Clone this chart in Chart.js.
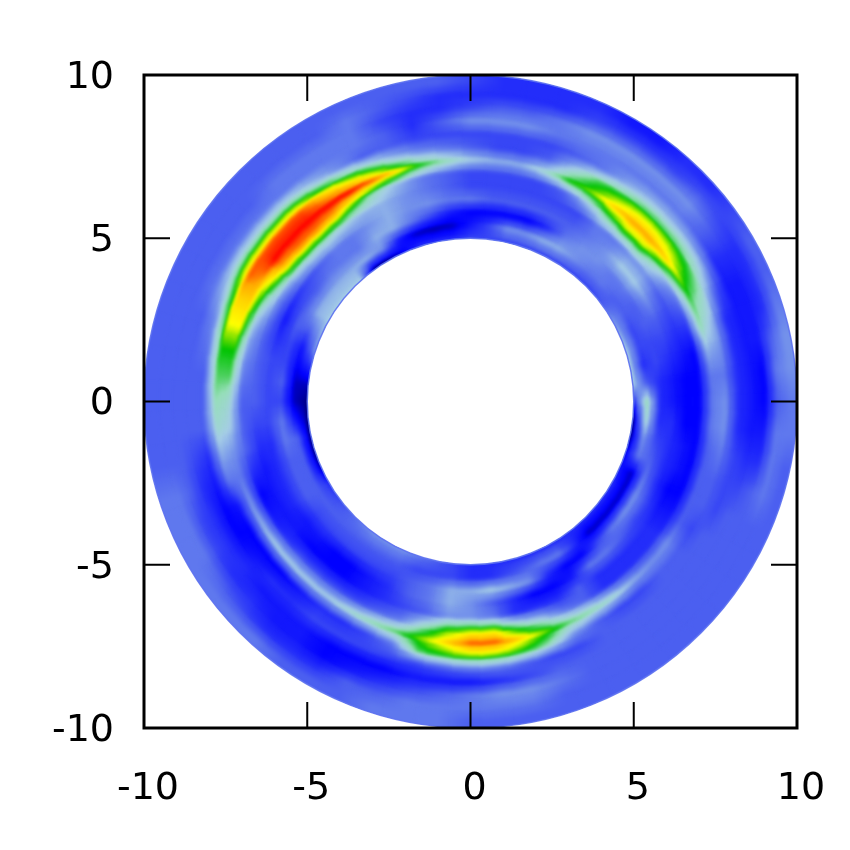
<!DOCTYPE html>
<html>
<head>
<meta charset="utf-8">
<style>
html,body{margin:0;padding:0;background:#fff}
#wrap{width:850px;height:850px}
</style>
<script src="https://cdn.jsdelivr.net/npm/chart.js@4/dist/chart.umd.min.js"></script>
</head>
<body>
<div id="wrap"><canvas id="chart" width="850" height="850"></canvas></div>
<script>
// values, one array per ring, one value every 6 degrees from +x going ccw
const ring50=[2,5,5,5,4.5,4,3,2.5,2.5,2.5, 2.5,2.5,2.5,2.5,2.5,2.5,2,2,2,1, 0,0,5,5,5,5,4.5,4,2,.5, 0,0,0,0,.5,2,2.5,3,3.5,4, 4,4,3.5,3,2.5,2,2,2,2,2, 2,2,2,2,2,2,1.5,1,0,0];
const ring54=[6,3,2,2.5,2.5,3,3,3.5,3.5,4, 4.5,4.5,4,4,2.5,1.5,.5,.3,.5,1.5, 4,4.5,4.5,4.5,4.5,4.5,3,1.5,1,.5, .5,1.5,3,3,3,3,3,3,3,3, 3,3,2.5,2.5,2.5,2,2,2.5,3,3.5, 3.5,2,.5,.5,.5,.5,.5,3.5,4,5.5];
const ring58=[2,2,2.5,2.5,3,3,3.5,3.5,4,4, 3.5,2,1,1,1,1,1.5,2.5,3.5,4.5, 4.5,3.5,3.5,3.5,3,3,3,2.5,2.5,3, 2.5,3.5,3.5,3,3,3,2.5,2.5,2.5,2.5, 2.5,2.5,3,3.5,4.5,4.5,5,4.5,4,2, 1,1,2.5,3.5,4,4,3.5,3,2.5,2];
const ring62=[1.5,1.5,2,2.5,3,4,5,5,4,3.5, 3,3,3,3,3,3.5,3.5,4,4,4.5, 4,3.5,3.5,3,2.5,2,1.5,2,2.5,2.5, 2.5,2.5,2,2,2,2,1.5,1.5,1,1, 1.5,2,3,3.5,4.5,4,3,2,1,1, 1.5,3.5,3.5,3,2.5,2.5,2,2,2,2];
const ring66=[1,1,1.5,2,2.5,3,4,4,3.5,3.5, 2.5,2.5,2.5,2.5,2.5,2.5,3,3.5,4,4.5, 4.5,5,5.5,5.5,5,4,3.5,3,3,3, 3,2.5,2,1.5,1.5,1.5,1.5,1,1,1, 1.5,2,2.5,3,4,4,3.5,2,2,2, 3,2,2,2,2,1.5,1,1.5,1.5,1];
const ring70=[1,1,1,2,3,4,5.5,7,7,6, 4.5,3,2.5,2.5,2.5,2.5,3,3.5,4.5,5.5, 7,8.5,9,9,8.5,7,5.5,4.5,4,3.5, 3,3,3,2,1,1.5,2,2.5,2.5,2.5, 2.5,3,3.5,5.5,7,7.5,7.5,6,5,3.5, 3,2,2,2,2,1.5,1,1,1,1];
const ring74=[3.5,3.5,4.5,6,6.5,7.5,8.5,9,9,8.5, 7.5,7,5.5,4.5,4.5,5,6,7,8.5,9.5, 10,10,10,10,10,9,8.5,8,7,6.5, 5.5,5,4,3.5,4,4.5,5,5,5,5, 5.5,6,6.5,7.5,8.5,9.5,9.5,8.5,7.5,6.5, 6,5.5,4.5,4,4,3,3,3,3,3.5];
const ring78=[4,3.5,4,4.5,5.5,6.5,7.2,7.5,7.5,7, 6.5,5,3,2.5,2.5,3,3.5,4,5,6.5, 7.5,8.5,9.5,9.5,9.5,9.5,8.5,8,7,6.5, 6,5.5,4.5,3.5,1.5,1,1,1,1.5,2, 2,2.5,3.5,6.5,7,7.5,7.5,7,6,4, 3,2.5,2.5,3,3,2.5,3,3,3.5,4];
const ring82=[2,2,2,2,3,4.5,5,5,5,4.5, 3.5,3,2.5,2.5,2.5,2.5,2.5,2.5,3,3, 4,5,6,6,6,6,5,4,3.5,3, 3,3,2,1.5,1,1,1.5,2,2,2.5, 2.5,2.5,2.5,2.5,3,3.5,3.5,3,2.5,2.5, 3,3,3,3,3,3,2.5,2.5,2.5,2];
const ring86=[1.5,1.5,1.5,1.5,1.5,2,3,3.5,3.5,3.5, 3.5,3.5,3.5,4,4,4,3,2,3,3.5, 3.5,3.5,3.5,3.5,3.5,3.5,3.5,3,3,3, 3,3,2.5,2,2,2,2,1.5,1.5,1.5, 1,1,1,1.5,1.5,1.5,2,2.5,3,3, 3,3,3,3,3,3,3,2.5,2,1.5];
const ring90=[1,1,1.5,1.5,1.5,2,3,4,4,4, 4,4,3.5,3,3,2.5,2,2,2.5,3.5, 3.5,3.5,3.5,3,3,3,3,3,3,3, 3,3,3,3,2.5,2.5,2,2,1.5,1.5, 1,1.5,2,2.5,3,3.5,4,4,3.5,3, 3,3,3,3,3,3,3,3,2,1.5];
const ring94=[3,3.5,3,2,2,2,2.5,3,2.5,2.5, 2.5,2.5,2,2,2,2,2,2.5,3,3.5, 3,3,3,3,3,3,3,3,3,3, 3,3,3,3.5,3.5,3.5,3,2.5,2,2, 2,3,3,3.5,3.5,3.5,3.5,3.5,3,3, 3,3,3,3,3,3,3,3.5,3.5,3.5];
const ring98=[3.5,4,4,3.5,3,3,2.5,2,2,1.5, 1.5,2,2,2,2,2.5,3,3,3,3, 3,3,3,3,3,3,3,3,3,3, 3,3,3,3.5,3.5,3.5,3.5,3.5,3.5,3, 3,3,3.5,3.5,3.5,3,3,3,3,3, 3,3,3,3,3,3,3,3,3,3.5];

const ringRadii=[5,5.4,5.8,6.2,6.6,7,7.4,7.8,8.2,8.6,9,9.4,9.8];
const ringValues=[ring50,ring54,ring58,ring62,ring66,ring70,ring74,ring78,ring82,ring86,ring90,ring94,ring98];
const angleStep=6;
const innerRadius=5, outerRadius=10;
const tickValues=[-10,-5,0,5,10];

// level -> colour, same ramp as the picture
const ramp=[[0,0,130],[0,0,255],[35,45,250],[75,95,240],[115,145,235],[165,205,230],[150,222,185],[0,195,0],[255,255,0],[255,170,0],[255,0,0]];
function rgbFor(v){
  const i=Math.max(0,Math.min(Math.floor(v),9)), t=v-i;
  return ramp[i].map((n,k)=>Math.round(n+(ramp[i+1][k]-n)*t));
}

const pxPerUnit=653/20;
const ringGap=0.4;

// shade one cell like pm3d interpolate: its marker fades towards the neighbouring cells
function sample(rf,af){
  const n=ringValues[0].length, last=ringValues.length-1;
  rf=Math.max(0,Math.min(rf,last));
  const r0=Math.min(Math.floor(rf),last-1), tr=rf-r0;
  const a0=Math.floor(af), ta=af-a0;
  const i0=((a0%n)+n)%n, i1=(i0+1)%n;
  const lo=ringValues[r0][i0]*(1-ta)+ringValues[r0][i1]*ta;
  const hi=ringValues[r0+1][i0]*(1-ta)+ringValues[r0+1][i1]*ta;
  return lo*(1-tr)+hi*tr;
}
const cellCache={};
function cellCanvas(ri,ai){
  const key=ri+'_'+ai;
  if(cellCache[key])return cellCache[key];
  const r=ringRadii[ri];
  const c=document.createElement('canvas');
  c.width=Math.ceil(r*angleStep*Math.PI/180*pxPerUnit*1.25);
  c.height=Math.ceil(ringGap*pxPerUnit*1.25);
  const g=c.getContext('2d');
  const img=g.createImageData(c.width,c.height);
  const degPerPx=1/(r*pxPerUnit)*180/Math.PI/angleStep;
  const ringPerPx=1/(ringGap*pxPerUnit);
  for(let py=0;py<c.height;py++){
    for(let px=0;px<c.width;px++){
      // canvas +x runs clockwise, canvas +y runs inwards once the marker is rotated
      const af=ai-(px+.5-c.width/2)*degPerPx;
      const rf=ri-(py+.5-c.height/2)*ringPerPx;
      const col=rgbFor(sample(rf,af));
      const o=(py*c.width+px)*4;
      img.data[o]=col[0];img.data[o+1]=col[1];img.data[o+2]=col[2];img.data[o+3]=255;
    }
  }
  g.putImageData(img,0,0);
  cellCache[key]=c;
  return c;
}

const cells=[];
ringRadii.forEach((r,ri)=>{
  ringValues[ri].forEach((v,ai)=>{
    const a=ai*angleStep*Math.PI/180;
    cells.push({x:r*Math.cos(a),y:r*Math.sin(a),ri:ri,ai:ai,v:v,deg:ai*angleStep});
  });
});

function annulusPath(chart){
  const {ctx,scales:{x,y}}=chart;
  const cx=x.getPixelForValue(0), cy=y.getPixelForValue(0);
  const ro=x.getPixelForValue(outerRadius)-cx, ri=x.getPixelForValue(innerRadius)-cx;
  ctx.beginPath();
  ctx.arc(cx,cy,ro,0,Math.PI*2);
  ctx.moveTo(cx+ri,cy);
  ctx.arc(cx,cy,ri,0,Math.PI*2);
}

const ringPlugin={
  id:'ringPlugin',
  beforeDatasetDraw(chart){
    const ctx=chart.ctx;
    ctx.save();
    annulusPath(chart);
    ctx.clip('evenodd');
    const base=rgbFor(3);
    ctx.fillStyle=`rgb(${base[0]},${base[1]},${base[2]})`;
    ctx.fillRect(0,0,chart.width,chart.height);
    ctx.filter='blur(1.5px)';
  },
  afterDatasetDraw(chart){
    const ctx=chart.ctx;
    ctx.restore();
    // thin lighter rim
    annulusPath(chart);
    ctx.strokeStyle='rgba(95,115,240,0.9)';
    ctx.lineWidth=1.5;
    ctx.stroke();
  }
};

// gnuplot style frame with inward ticks on all four sides
const framePlugin={
  id:'framePlugin',
  afterDraw(chart){
    const {ctx,chartArea:a,scales:{x,y}}=chart;
    ctx.save();
    ctx.strokeStyle='#000';
    ctx.lineWidth=2;
    ctx.beginPath();
    tickValues.forEach(t=>{
      const px=x.getPixelForValue(t), py=y.getPixelForValue(t);
      ctx.moveTo(px,a.top);ctx.lineTo(px,a.top+26);
      ctx.moveTo(px,a.bottom);ctx.lineTo(px,a.bottom-26);
      ctx.moveTo(a.left,py);ctx.lineTo(a.left+26,py);
      ctx.moveTo(a.right,py);ctx.lineTo(a.right-26,py);
    });
    ctx.stroke();
    ctx.lineWidth=3;
    ctx.strokeRect(a.left,a.top,a.right-a.left,a.bottom-a.top);
    ctx.restore();
  }
};

const font={family:'"DejaVu Sans"',size:38};

new Chart(document.getElementById('chart'),{
  type:'scatter',
  data:{datasets:[{
    data:cells,
    pointRadius:1,
    pointHoverRadius:1,
    borderWidth:0,
    pointStyle:c=>c.raw?cellCanvas(c.raw.ri,c.raw.ai):'circle',
    pointRotation:c=>c.raw?90-c.raw.deg:0
  }]},
  plugins:[ringPlugin,framePlugin],
  options:{
    responsive:false,
    animation:false,
    events:[],
    layout:{padding:{top:75,right:53,left:0,bottom:0}},
    plugins:{legend:{display:false},tooltip:{enabled:false}},
    scales:{
      x:{
        type:'linear',min:-10,max:10,
        grid:{display:false,drawTicks:false},
        border:{display:false},
        afterFit(s){s.height=122;s.paddingLeft=0;s.paddingRight=0},
        afterBuildTicks(s){s.ticks=tickValues.map(v=>({value:v}))},
        ticks:{color:'#000',font:font,padding:38,labelOffset:4,maxRotation:0,autoSkip:false}
      },
      y:{
        type:'linear',min:-10,max:10,
        grid:{display:false,drawTicks:false},
        border:{display:false},
        afterFit(s){s.width=144;s.paddingTop=0;s.paddingBottom=0},
        afterBuildTicks(s){s.ticks=tickValues.map(v=>({value:v}))},
        ticks:{color:'#000',font:font,padding:30,labelOffset:3,maxRotation:0,autoSkip:false}
      }
    }
  }
});
</script>
</body>
</html>
